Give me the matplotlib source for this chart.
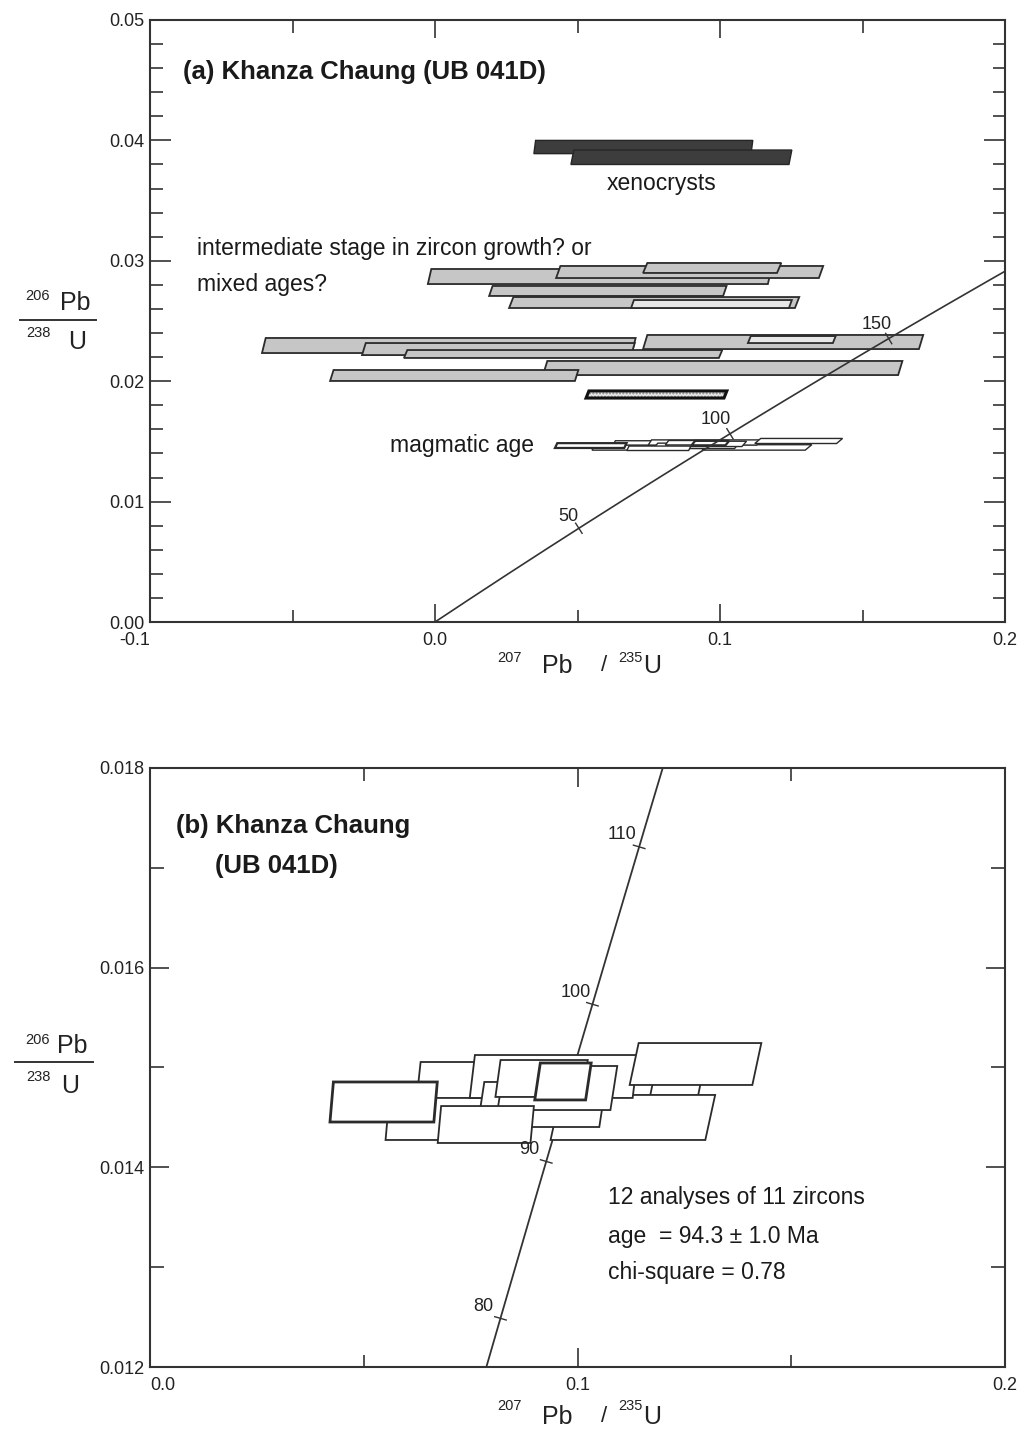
import numpy as np
import matplotlib
matplotlib.use('Agg')
import matplotlib.pyplot as plt
from matplotlib.patches import Polygon

plt.rcParams['font.family'] = ['Liberation Sans', 'DejaVu Sans']

# ---------------- constants ----------------
LAMBDA_238 = 1.55125e-10   # 1/yr
LAMBDA_235 = 9.8485e-10    # 1/yr

# ---------------- data ----------------
# each error box: 207Pb/235U range of bottom edge (lo, hi), 206Pb/238U range (lo, hi),
# and x-shift of the top edge relative to the bottom edge
# xenocrysts (panel a)
xeno_x_lo = [0.0347, 0.0477]
xeno_x_hi = [0.1109, 0.1242]
xeno_y_lo = [0.0389, 0.0380]
xeno_y_hi = [0.0400, 0.0392]
xeno_shift = [0.0006, 0.0010]

# intermediate stage / mixed ages (panel a)
mid_x_lo = [-0.0025, 0.0425, 0.0730, 0.0190, 0.0260, 0.0688,
            -0.0607, -0.0256, -0.0109, 0.0730, 0.1098, 0.0379, -0.0368]
mid_x_hi = [0.1168, 0.1347, 0.1200, 0.1011, 0.1263, 0.1242,
            0.0691, 0.0688, 0.0996, 0.1698, 0.1396, 0.1625, 0.0491]
mid_y_lo = [0.02807, 0.02857, 0.02899, 0.02708, 0.02608, 0.02608,
            0.02234, 0.02217, 0.02193, 0.02267, 0.02317, 0.02051, 0.02002]
mid_y_hi = [0.02932, 0.02957, 0.02982, 0.02791, 0.02699, 0.02674,
            0.02359, 0.02317, 0.02259, 0.02384, 0.02375, 0.02168, 0.02093]
mid_shift = [0.0012, 0.0015, 0.0015, 0.0012, 0.0015, 0.0010,
             0.0013, 0.0013, 0.0012, 0.0015, 0.0010, 0.0015, 0.0012]
mid_light = [False, False, False, False, False, True,
             False, False, False, False, True, False, False]

# hatched analysis (panel a)
hat_x_lo = [0.0530]
hat_x_hi = [0.1014]
hat_y_lo = [0.01860]
hat_y_hi = [0.01919]
hat_shift = [0.0010]

# magmatic-age analyses (both panels), drawn back to front
mag_x_lo = [0.1168, 0.0937, 0.0551, 0.0624, 0.0748, 0.0766, 0.0813,
            0.0808, 0.0900, 0.0673, 0.0421, 0.1122]
mag_x_hi = [0.1280, 0.1299, 0.0883, 0.1023, 0.1129, 0.1051, 0.1077,
            0.1012, 0.1019, 0.0890, 0.0664, 0.1409]
mag_y_lo = [0.014675, 0.014274, 0.014274, 0.014695, 0.014695, 0.014404, 0.014574,
            0.014705, 0.014675, 0.014244, 0.014454, 0.014825]
mag_y_hi = [0.015075, 0.014725, 0.014705, 0.015055, 0.015125, 0.014855, 0.015015,
            0.015075, 0.015045, 0.014614, 0.014855, 0.015245]
mag_shift = [0.0019, 0.0023, 0.0009, 0.0009, 0.0012, 0.0016, 0.0016,
             0.0012, 0.0013, 0.0008, 0.0008, 0.0021]
mag_thick = [False, False, False, False, False, False, False,
             False, True, False, True, False]

conc_ages_a = [50, 100, 150]
conc_ages_b = [80, 90, 100, 110]

# ---------------- helpers ----------------
W, H = 1024, 1433


def fx(px):
    return px / W


def fy(py):
    return 1 - py / H


def concordia(t_ma):
    t = np.asarray(t_ma, dtype=float) * 1e6
    return np.expm1(LAMBDA_235 * t), np.expm1(LAMBDA_238 * t)


def box(ax, xl, xr, yl, yh, sh, **kw):
    verts = [(xl, yl), (xr, yl), (xr + sh, yh), (xl + sh, yh)]
    p = Polygon(verts, closed=True, **kw)
    ax.add_patch(p)
    return p


def conc_tick(ax, age, length_px, label, offset, fs):
    x, y = concordia(age)
    x2, y2 = concordia(age + 0.5)
    p = ax.transData.transform([(x, y), (x2, y2)])
    d = p[1] - p[0]
    d = d / np.hypot(*d)
    n = np.array([-d[1], d[0]])
    a = p[0] + n * length_px / 2
    b = p[0] - n * length_px / 2
    (xa, ya), (xb, yb) = ax.transData.inverted().transform([a, b])
    ax.plot([xa, xb], [ya, yb], color='#333333', lw=1.0, zorder=6)
    ax.annotate(label, (x, y), xytext=offset, textcoords='offset pixels',
                ha='center', va='center', fontsize=fs, color='#222222', zorder=7)


def style_axes(ax):
    for s in ax.spines.values():
        s.set_linewidth(1.5)
        s.set_color('#333333')
    ax.tick_params(which='both', direction='in', top=True, right=True,
                   colors='#333333', labelcolor='#222222', width=1.2)


def frac_label(pos_sup1, pos_main1, line_y, line_x, pos_sup2, pos_main2,
               s1, m1, s2, m2):
    fig.text(fx(pos_sup1[0]), fy(pos_sup1[1]), s1, fontsize=10.5, ha='center', va='center', color='#222')
    fig.text(fx(pos_main1[0]), fy(pos_main1[1]), m1, fontsize=18, ha='center', va='center', color='#222')
    fig.add_artist(plt.Line2D([fx(line_x[0]), fx(line_x[1])], [fy(line_y), fy(line_y)],
                              color='#333', lw=1.4, transform=fig.transFigure))
    fig.text(fx(pos_sup2[0]), fy(pos_sup2[1]), s2, fontsize=10.5, ha='center', va='center', color='#222')
    fig.text(fx(pos_main2[0]), fy(pos_main2[1]), m2, fontsize=18, ha='center', va='center', color='#222')


def x_label(yc, ysup):
    fig.text(fx(510), fy(ysup), '207', fontsize=10.5, ha='center', va='center', color='#222')
    fig.text(fx(557), fy(yc), 'Pb', fontsize=18, ha='center', va='center', color='#222')
    fig.text(fx(604), fy(yc), '/', fontsize=16, ha='center', va='center', color='#222')
    fig.text(fx(630), fy(ysup), '235', fontsize=10.5, ha='center', va='center', color='#222')
    fig.text(fx(652), fy(yc), 'U', fontsize=18, ha='center', va='center', color='#222')


# ---------------- figure ----------------
fig = plt.figure(figsize=(W / 100, H / 100), dpi=100)
fig.patch.set_facecolor('white')

# ===== panel (a) =====
axa = fig.add_axes([fx(150), fy(622), fx(1005) - fx(150), fy(20) - fy(622)])
axa.set_xlim(-0.1, 0.2)
axa.set_ylim(0.0, 0.05)
style_axes(axa)
axa.set_xticks([-0.1, 0.0, 0.1, 0.2])
axa.set_xticklabels(['-0.1', '0.0', '0.1', '0.2'], fontsize=13)
axa.set_xticks([-0.05, 0.05, 0.15], minor=True)
axa.set_yticks([0.0, 0.01, 0.02, 0.03, 0.04, 0.05])
axa.set_yticklabels(['0.00', '0.01', '0.02', '0.03', '0.04', '0.05'], fontsize=13)
axa.set_yticks(np.arange(0.002, 0.05, 0.002), minor=True)
axa.tick_params(axis='x', which='major', length=13, pad=7)
axa.tick_params(axis='x', which='minor', length=9)
axa.tick_params(axis='y', which='major', length=15, pad=4)
axa.tick_params(axis='y', which='minor', length=9)
axa.get_xticklabels()[0].set_ha('right')

# concordia
t_a = np.linspace(0, 200, 600)
cx, cy = concordia(t_a)
axa.plot(cx, cy, color='#333333', lw=1.2, zorder=5)

# xenocrysts
for i in range(len(xeno_x_lo)):
    box(axa, xeno_x_lo[i], xeno_x_hi[i], xeno_y_lo[i], xeno_y_hi[i], xeno_shift[i],
        facecolor='#3d3d3d', edgecolor='#262626', lw=1.0, zorder=3)

# intermediate
for i in range(len(mid_x_lo)):
    fc = '#e6e6e6' if mid_light[i] else '#c6c6c6'
    box(axa, mid_x_lo[i], mid_x_hi[i], mid_y_lo[i], mid_y_hi[i], mid_shift[i],
        facecolor=fc, edgecolor='#2b2b2b', lw=1.3, zorder=3)

# hatched one
for i in range(len(hat_x_lo)):
    box(axa, hat_x_lo[i], hat_x_hi[i], hat_y_lo[i], hat_y_hi[i], hat_shift[i],
        facecolor='#e8e8e8', edgecolor='#8a8a8a', hatch='.....', lw=0, zorder=3)
    box(axa, hat_x_lo[i], hat_x_hi[i], hat_y_lo[i], hat_y_hi[i], hat_shift[i],
        fill=False, edgecolor='#111111', lw=2.2, zorder=3)

# magmatic (small in a)
for i in range(len(mag_x_lo)):
    box(axa, mag_x_lo[i], mag_x_hi[i], mag_y_lo[i], mag_y_hi[i], mag_shift[i],
        facecolor='white', edgecolor='#2b2b2b', lw=1.6 if mag_thick[i] else 1.0, zorder=4)

a_offsets = [(-10, 12), (-14, 14), (-12, 14)]
for age, off in zip(conc_ages_a, a_offsets):
    conc_tick(axa, age, 12, str(age), off, 13)

axa.text(-0.0884, 0.04568, '(a) Khanza Chaung (UB 041D)', fontsize=18.5,
         fontweight='bold', ha='left', va='center', color='#1a1a1a')
axa.text(0.0796, 0.03646, 'xenocrysts', fontsize=16.5, ha='center', va='center', color='#1a1a1a')
axa.text(-0.0835, 0.03106, 'intermediate stage in zircon growth? or', fontsize=16.5,
         ha='left', va='center', color='#1a1a1a')
axa.text(-0.0835, 0.02807, 'mixed ages?', fontsize=16.5, ha='left', va='center', color='#1a1a1a')
axa.text(-0.0158, 0.01462, 'magmatic age', fontsize=16.5, ha='left', va='center', color='#1a1a1a')

frac_label((38, 296), (75, 303), 320, (20, 96), (38, 333), (77, 342), '206', 'Pb', '238', 'U')
x_label(666, 658)

# ===== panel (b) =====
axb = fig.add_axes([fx(150), fy(1367), fx(1005) - fx(150), fy(768) - fy(1367)])
axb.set_xlim(0.0, 0.2)
axb.set_ylim(0.012, 0.018)
style_axes(axb)
axb.set_xticks([0.0, 0.1, 0.2])
axb.set_xticklabels(['0.0', '0.1', '0.2'], fontsize=13)
axb.set_xticks([0.05, 0.15], minor=True)
axb.set_yticks([0.012, 0.014, 0.016, 0.018])
axb.set_yticklabels(['0.012', '0.014', '0.016', '0.018'], fontsize=13)
axb.set_yticks([0.013, 0.015, 0.017], minor=True)
axb.tick_params(axis='x', which='major', length=14, pad=7)
axb.tick_params(axis='x', which='minor', length=9)
axb.tick_params(axis='y', which='major', length=14, pad=4)
axb.tick_params(axis='y', which='minor', length=10)
axb.get_xticklabels()[0].set_ha('left')

t_b = np.linspace(60, 130, 400)
cxb, cyb = concordia(t_b)
axb.plot(cxb, cyb, color='#333333', lw=1.3, zorder=5)

for i in range(len(mag_x_lo)):
    box(axb, mag_x_lo[i], mag_x_hi[i], mag_y_lo[i], mag_y_hi[i], mag_shift[i],
        facecolor='white', edgecolor='#2b2b2b', lw=2.0 if mag_thick[i] else 1.3, zorder=6)

for age in conc_ages_b:
    conc_tick(axb, age, 12, str(age), (-17, 12), 13)

axb.text(0.00607, 0.017419, '(b) Khanza Chaung', fontsize=18.5, fontweight='bold',
         ha='left', va='center', color='#1a1a1a')
axb.text(0.01519, 0.017018, '(UB 041D)', fontsize=18.5, fontweight='bold',
         ha='left', va='center', color='#1a1a1a')
axb.text(0.10724, 0.013693, '12 analyses of 11 zircons', fontsize=16.5, ha='left', va='center', color='#1a1a1a')
axb.text(0.10724, 0.013312, 'age  = 94.3 \u00b1 1.0 Ma', fontsize=16.5, ha='left', va='center', color='#1a1a1a')
axb.text(0.10724, 0.012942, 'chi-square = 0.78', fontsize=16.5, ha='left', va='center', color='#1a1a1a')

frac_label((38, 1040), (72, 1046), 1062, (15, 93), (38, 1077), (70, 1086), '206', 'Pb', '238', 'U')
x_label(1417, 1406)

fig.savefig('out.png', dpi=100, facecolor='white')
